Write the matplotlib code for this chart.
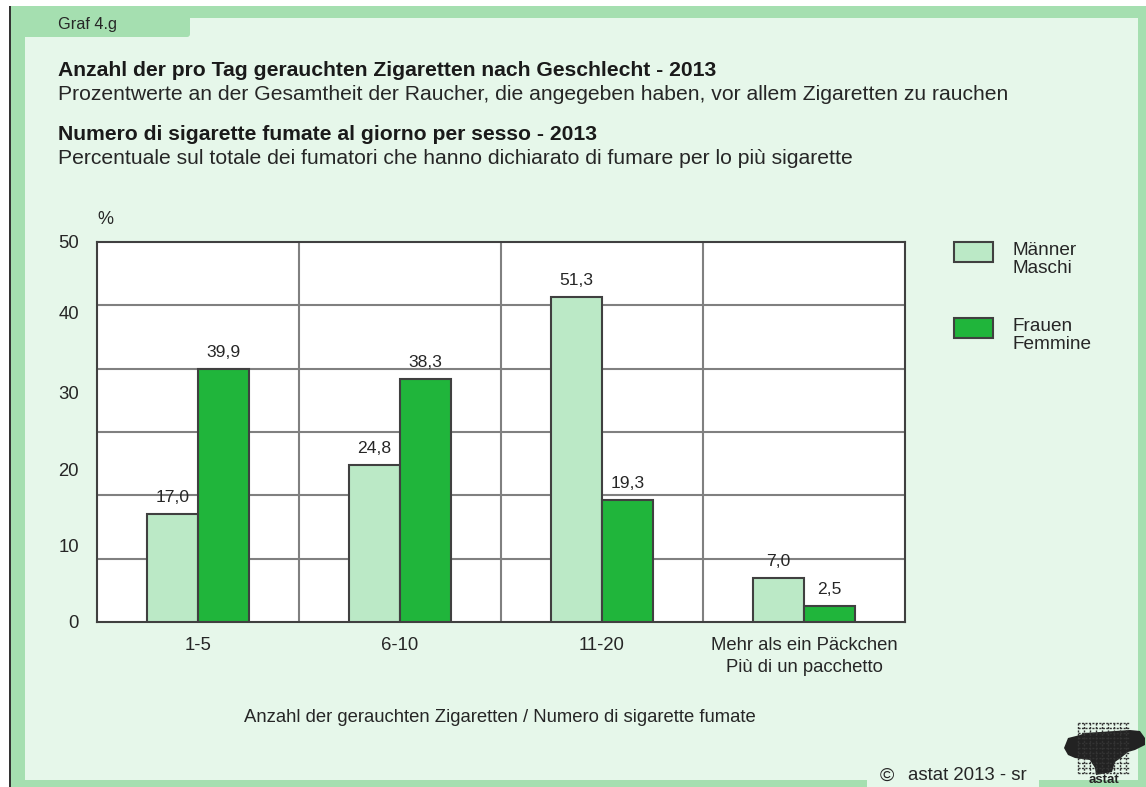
import matplotlib
matplotlib.use('Agg')
import matplotlib.pyplot as plt
from matplotlib.patches import Rectangle, Polygon, FancyBboxPatch

categories = ['1-5', '6-10', '11-20', 'Mehr als ein Päckchen\nPiù di un pacchetto']
maenner = [17.0, 24.8, 51.3, 7.0]
frauen = [39.9, 38.3, 19.3, 2.5]
ytick_labels = ['0', '10', '20', '30', '40', '50']
# the printed labels do not line up with the grid in the original
ytick_pos = [0, 12, 24, 36.2, 48.8, 60]

W, H = 1146, 787
LIGHT = '#bbe9c6'
DARK = '#20b53b'
PANEL = '#e6f7ea'
BORDER = '#a5dfb0'
TXT = '#262626'

plt.rcParams['font.family'] = ['Liberation Sans', 'DejaVu Sans']

fig = plt.figure(figsize=(W / 100, H / 100), dpi=100, facecolor='white')

# overlay in pixel coordinates for the frame, titles and legend
bg = fig.add_axes([0, 0, 1, 1], zorder=0)
bg.set_xlim(0, W)
bg.set_ylim(H, 0)
bg.axis('off')
bg.add_patch(Rectangle((10, 6), W - 10, H - 6, fc=BORDER, ec='none'))
bg.add_patch(Rectangle((25, 18), 1113, 762, fc=PANEL, ec='none'))
bg.add_patch(Rectangle((8.5, 6), 2, H - 6, fc='#333333', ec='none'))
bg.add_patch(FancyBboxPatch((11, 6), 179, 31, boxstyle='round,pad=0,rounding_size=3', fc=BORDER, ec='none'))
bg.add_patch(FancyBboxPatch((867, 772), 172, 30, boxstyle='round,pad=0,rounding_size=4', fc=PANEL, ec='none'))

bg.text(58, 25, 'Graf 4.g', fontsize=11.7, color=TXT, va='center')
bg.text(58, 70.5, 'Anzahl der pro Tag gerauchten Zigaretten nach Geschlecht - 2013', fontsize=15.2,
        fontweight='bold', color='#1a1a1a', va='center')
bg.text(58, 94.5, 'Prozentwerte an der Gesamtheit der Raucher, die angegeben haben, vor allem Zigaretten zu rauchen',
        fontsize=15.2, color=TXT, va='center')
bg.text(58, 134.5, 'Numero di sigarette fumate al giorno per sesso - 2013', fontsize=15.2,
        fontweight='bold', color='#1a1a1a', va='center')
bg.text(58, 158.5, 'Percentuale sul totale dei fumatori che hanno dichiarato di fumare per lo più sigarette',
        fontsize=15.2, color=TXT, va='center')
bg.text(97, 220, '%', fontsize=13, color=TXT, va='center')
bg.text(500, 718, 'Anzahl der gerauchten Zigaretten / Numero di sigarette fumate', fontsize=13.3,
        color=TXT, ha='center', va='center')

# legend
bg.add_patch(Rectangle((954, 242), 39, 20, fc=LIGHT, ec='#404040', lw=1.5))
bg.add_patch(Rectangle((954, 318), 39, 20, fc=DARK, ec='#404040', lw=1.5))
bg.text(1013, 259.5, 'Männer\nMaschi', fontsize=13.7, color=TXT, va='center', linespacing=1.05)
bg.text(1013, 335.5, 'Frauen\nFemmine', fontsize=13.7, color=TXT, va='center', linespacing=1.05)

# footer and logo
bg.text(880, 776, '©', fontsize=14, color=TXT, va='center')
bg.text(908, 776, 'astat 2013 - sr', fontsize=13.4, color=TXT, va='center')
bg.add_patch(Polygon([(1064, 748), (1068, 738), (1080, 735), (1085, 733), (1130, 730), (1140, 731),
                      (1145, 738), (1145, 745), (1135, 750), (1128, 752), (1122, 757), (1115, 762),
                      (1112, 772), (1096, 775), (1095, 768), (1090, 760), (1075, 758), (1068, 755)],
                     fc='#222222', ec='none'))
for y in range(723, 775, 5):
    bg.plot([1078, 1130], [y, y], color='#333333', lw=1, dashes=(1.5, 1))
for x in range(1078, 1132, 6):
    bg.plot([x, x], [723, 773], color='#333333', lw=1, dashes=(1.5, 1))
bg.text(1104, 780, 'astat', fontsize=9.5, fontweight='bold', color='#222222', ha='center', va='center')

# chart
ax = fig.add_axes([97 / W, 1 - 622 / H, 808 / W, 380 / H], zorder=1)
ax.set_facecolor('white')
x = list(range(len(categories)))
w = 51 / 202
b1 = ax.bar([i - w / 2 for i in x], maenner, w, color=LIGHT, edgecolor='#404040', linewidth=1.5, zorder=3)
b2 = ax.bar([i + w / 2 for i in x], frauen, w, color=DARK, edgecolor='#404040', linewidth=1.5, zorder=3)
for bars, vals in ((b1, maenner), (b2, frauen)):
    for r, v in zip(bars, vals):
        ax.annotate(f'{v:.1f}'.replace('.', ','), (r.get_x() + r.get_width() / 2, v), xytext=(0, 12),
                    textcoords='offset points', ha='center', va='center', fontsize=12.6, color=TXT, zorder=4)

ax.set_xlim(-0.5, 3.5)
ax.set_ylim(0, 60)
ax.set_xticks(x)
ax.set_xticklabels(categories, fontsize=13.3, color=TXT, linespacing=1.33)
ax.set_yticks(ytick_pos)
ax.set_yticklabels(ytick_labels, fontsize=13.3, color=TXT)
ax.set_yticks(range(0, 70, 10), minor=True)
ax.set_xticks([0.5, 1.5, 2.5], minor=True)
ax.tick_params(which='both', length=0)
ax.tick_params(axis='x', pad=11)
ax.tick_params(axis='y', pad=13)
ax.grid(which='minor', color='#808080', linewidth=1.5, zorder=1)
ax.set_axisbelow(True)
for s in ax.spines.values():
    s.set_color('#404040')
    s.set_linewidth(1.5)

plt.savefig('out.png', dpi=100)
plt.close()
